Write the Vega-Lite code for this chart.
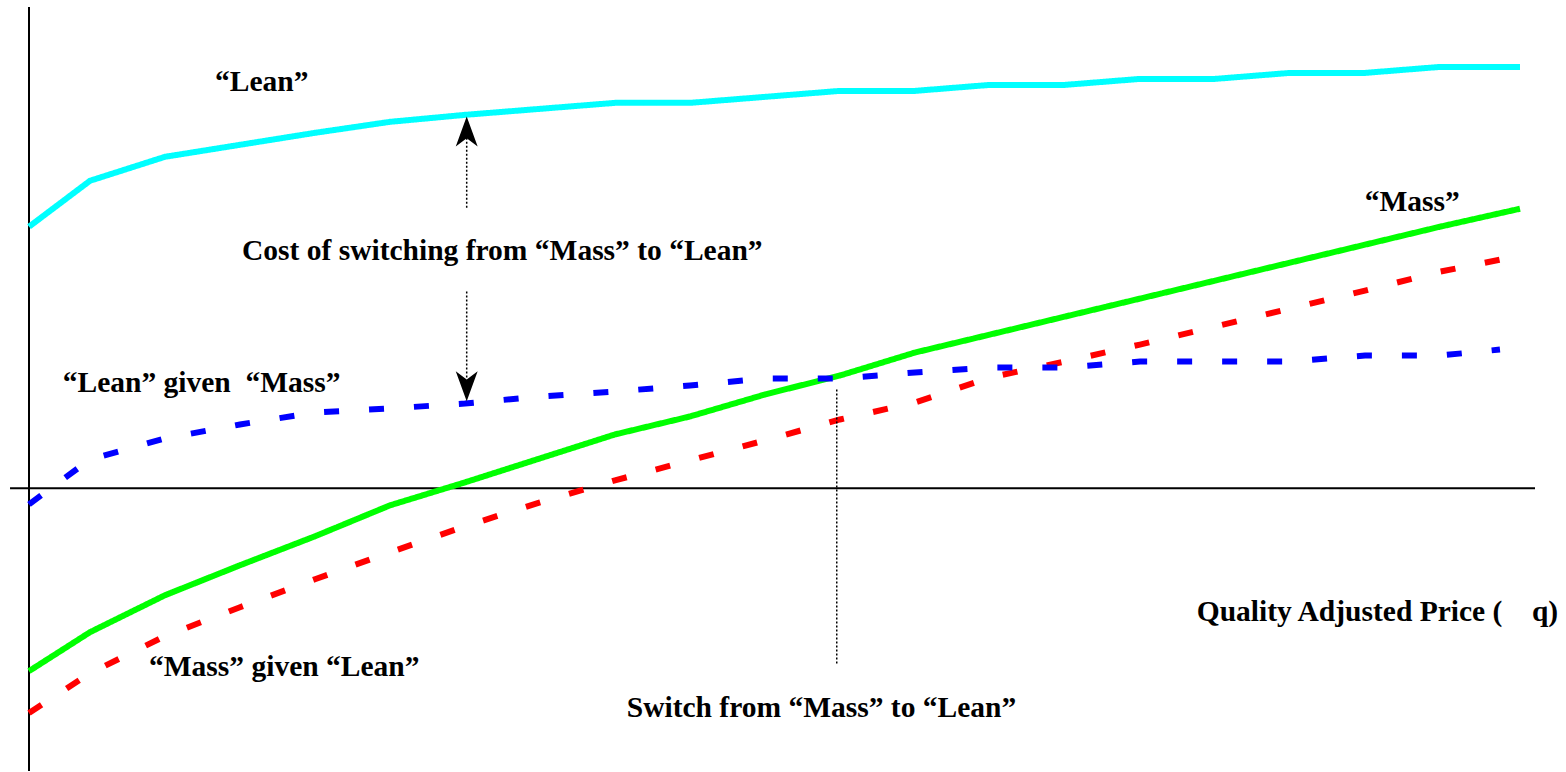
{
  "$schema": "https://vega.github.io/schema/vega-lite/v6.json",
  "width": 1566,
  "height": 772,
  "padding": 0,
  "autosize": {"type": "fit", "contains": "padding"},
  "background": "white",
  "config": {"view": {"stroke": null}, "axis": {"disable": true}, "legend": {"disable": true}},
  "datasets": {
    "curves": [
      {"q": 0, "value": 26.2, "series": "Lean"},
      {"q": 0.813, "value": 30.8, "series": "Lean"},
      {"q": 1.813, "value": 33.2, "series": "Lean"},
      {"q": 2.813, "value": 34.4, "series": "Lean"},
      {"q": 3.813, "value": 35.6, "series": "Lean"},
      {"q": 4.813, "value": 36.7, "series": "Lean"},
      {"q": 5.813, "value": 37.4, "series": "Lean"},
      {"q": 6.813, "value": 38.0, "series": "Lean"},
      {"q": 7.813, "value": 38.6, "series": "Lean"},
      {"q": 8.813, "value": 38.6, "series": "Lean"},
      {"q": 9.813, "value": 39.2, "series": "Lean"},
      {"q": 10.813, "value": 39.8, "series": "Lean"},
      {"q": 11.813, "value": 39.8, "series": "Lean"},
      {"q": 12.813, "value": 40.4, "series": "Lean"},
      {"q": 13.813, "value": 40.4, "series": "Lean"},
      {"q": 14.813, "value": 41.0, "series": "Lean"},
      {"q": 15.813, "value": 41.0, "series": "Lean"},
      {"q": 16.813, "value": 41.6, "series": "Lean"},
      {"q": 17.813, "value": 41.6, "series": "Lean"},
      {"q": 18.813, "value": 42.2, "series": "Lean"},
      {"q": 19.88, "value": 42.2, "series": "Lean"},

      {"q": 0, "value": -18.3, "series": "Mass"},
      {"q": 0.813, "value": -14.4, "series": "Mass"},
      {"q": 1.813, "value": -10.7, "series": "Mass"},
      {"q": 2.813, "value": -7.7, "series": "Mass"},
      {"q": 3.813, "value": -4.8, "series": "Mass"},
      {"q": 4.813, "value": -1.7, "series": "Mass"},
      {"q": 5.813, "value": 0.6, "series": "Mass"},
      {"q": 6.813, "value": 3.0, "series": "Mass"},
      {"q": 7.813, "value": 5.4, "series": "Mass"},
      {"q": 8.813, "value": 7.2, "series": "Mass"},
      {"q": 9.813, "value": 9.4, "series": "Mass"},
      {"q": 10.813, "value": 11.3, "series": "Mass"},
      {"q": 11.813, "value": 13.6, "series": "Mass"},
      {"q": 12.813, "value": 15.4, "series": "Mass"},
      {"q": 13.813, "value": 17.2, "series": "Mass"},
      {"q": 14.813, "value": 19.0, "series": "Mass"},
      {"q": 15.813, "value": 20.8, "series": "Mass"},
      {"q": 16.813, "value": 22.6, "series": "Mass"},
      {"q": 17.813, "value": 24.4, "series": "Mass"},
      {"q": 18.813, "value": 26.2, "series": "Mass"},
      {"q": 19.88, "value": 28.0, "series": "Mass"},

      {"q": 0, "value": -22.5, "series": "Mass given Lean"},
      {"q": 0.813, "value": -18.5, "series": "Mass given Lean"},
      {"q": 1.813, "value": -14.8, "series": "Mass given Lean"},
      {"q": 2.813, "value": -11.9, "series": "Mass given Lean"},
      {"q": 3.813, "value": -9.1, "series": "Mass given Lean"},
      {"q": 4.813, "value": -6.4, "series": "Mass given Lean"},
      {"q": 5.813, "value": -3.8, "series": "Mass given Lean"},
      {"q": 6.813, "value": -1.4, "series": "Mass given Lean"},
      {"q": 7.813, "value": 0.8, "series": "Mass given Lean"},
      {"q": 8.813, "value": 2.8, "series": "Mass given Lean"},
      {"q": 9.813, "value": 4.8, "series": "Mass given Lean"},
      {"q": 10.813, "value": 6.9, "series": "Mass given Lean"},
      {"q": 11.813, "value": 8.6, "series": "Mass given Lean"},
      {"q": 12.813, "value": 11.1, "series": "Mass given Lean"},
      {"q": 13.813, "value": 12.7, "series": "Mass given Lean"},
      {"q": 14.813, "value": 14.4, "series": "Mass given Lean"},
      {"q": 15.813, "value": 16.2, "series": "Mass given Lean"},
      {"q": 16.813, "value": 18.0, "series": "Mass given Lean"},
      {"q": 17.813, "value": 19.8, "series": "Mass given Lean"},
      {"q": 18.813, "value": 21.7, "series": "Mass given Lean"},
      {"q": 19.613, "value": 22.9, "series": "Mass given Lean"},

      {"q": 0, "value": -1.6, "series": "Lean given Mass"},
      {"q": 0.813, "value": 2.9, "series": "Lean given Mass"},
      {"q": 1.813, "value": 5.0, "series": "Lean given Mass"},
      {"q": 2.813, "value": 6.4, "series": "Lean given Mass"},
      {"q": 3.813, "value": 7.6, "series": "Lean given Mass"},
      {"q": 4.813, "value": 8.0, "series": "Lean given Mass"},
      {"q": 5.813, "value": 8.5, "series": "Lean given Mass"},
      {"q": 6.813, "value": 9.2, "series": "Lean given Mass"},
      {"q": 7.813, "value": 9.7, "series": "Lean given Mass"},
      {"q": 8.813, "value": 10.3, "series": "Lean given Mass"},
      {"q": 9.813, "value": 11.0, "series": "Lean given Mass"},
      {"q": 10.813, "value": 11.0, "series": "Lean given Mass"},
      {"q": 11.813, "value": 11.6, "series": "Lean given Mass"},
      {"q": 12.813, "value": 12.1, "series": "Lean given Mass"},
      {"q": 13.813, "value": 12.1, "series": "Lean given Mass"},
      {"q": 14.813, "value": 12.7, "series": "Lean given Mass"},
      {"q": 15.813, "value": 12.7, "series": "Lean given Mass"},
      {"q": 16.813, "value": 12.7, "series": "Lean given Mass"},
      {"q": 17.813, "value": 13.3, "series": "Lean given Mass"},
      {"q": 18.813, "value": 13.3, "series": "Lean given Mass"},
      {"q": 19.613, "value": 13.9, "series": "Lean given Mass"}
    ],
    "labels": [
      {"q": 2.48, "value": 39.8, "label": "\u201cLean\u201d"},
      {"q": 17.81, "value": 27.8, "label": "\u201cMass\u201d"},
      {"q": 2.84, "value": 22.9, "label": "Cost of switching from \u201cMass\u201d to \u201cLean\u201d"},
      {"q": 0.45, "value": 9.6, "label": "\u201cLean\u201d given \u00a0\u201cMass\u201d"},
      {"q": 1.6, "value": -18.8, "label": "\u201cMass\u201d given \u201cLean\u201d"},
      {"q": 15.57, "value": -13.3, "label": "Quality Adjusted Price ( \u00a0 \u00a0q)"},
      {"q": 7.97, "value": -22.9, "label": "Switch from \u201cMass\u201d to \u201cLean\u201d"}
    ]
  },
  "layer": [
    {
      "data": {"values": [{}]},
      "mark": {"type": "rule", "color": "black", "strokeWidth": 2},
      "encoding": {
        "x": {"datum": 0, "type": "quantitative", "scale": {"domain": [-0.3867, 20.4933], "nice": false, "zero": false}},
        "y": {"datum": 48.2, "type": "quantitative", "scale": {"domain": [-28.3, 48.9], "nice": false, "zero": false}},
        "y2": {"datum": -28.3}
      }
    },
    {
      "data": {"values": [{}]},
      "mark": {"type": "rule", "color": "black", "strokeWidth": 2},
      "encoding": {
        "x": {"datum": -0.253, "type": "quantitative", "scale": {"domain": [-0.3867, 20.4933], "nice": false, "zero": false}},
        "x2": {"datum": 20.08},
        "y": {"datum": 0, "type": "quantitative", "scale": {"domain": [-28.3, 48.9], "nice": false, "zero": false}}
      }
    },
    {
      "data": {"name": "curves"},
      "mark": {"type": "line", "strokeWidth": 6, "strokeCap": "butt", "strokeJoin": "miter"},
      "encoding": {
        "x": {"field": "q", "type": "quantitative", "scale": {"domain": [-0.3867, 20.4933], "nice": false, "zero": false}},
        "y": {"field": "value", "type": "quantitative", "scale": {"domain": [-28.3, 48.9], "nice": false, "zero": false}},
        "color": {"field": "series", "type": "nominal", "scale": {"domain": ["Lean", "Mass", "Mass given Lean", "Lean given Mass"], "range": ["#00ffff", "#00ff00", "#ff0000", "#0000ff"]}, "legend": null},
        "strokeDash": {"field": "series", "type": "nominal", "scale": {"domain": ["Lean", "Mass", "Mass given Lean", "Lean given Mass"], "range": [[1, 0], [1, 0], [15, 30], [15, 30]]}, "legend": null}
      }
    },
    {
      "data": {"values": [{}]},
      "mark": {"type": "rule", "color": "black", "strokeWidth": 1.5, "strokeDash": [2, 2]},
      "encoding": {
        "x": {"datum": 10.77, "type": "quantitative", "scale": {"domain": [-0.3867, 20.4933], "nice": false, "zero": false}},
        "y": {"datum": 9.9, "type": "quantitative", "scale": {"domain": [-28.3, 48.9], "nice": false, "zero": false}},
        "y2": {"datum": -17.6}
      }
    },
    {
      "data": {"values": [{}]},
      "mark": {"type": "rule", "color": "black", "strokeWidth": 1.5, "strokeDash": [2, 2]},
      "encoding": {
        "x": {"datum": 5.836, "type": "quantitative", "scale": {"domain": [-0.3867, 20.4933], "nice": false, "zero": false}},
        "y": {"datum": 35.1, "type": "quantitative", "scale": {"domain": [-28.3, 48.9], "nice": false, "zero": false}},
        "y2": {"datum": 27.9}
      }
    },
    {
      "data": {"values": [{}]},
      "mark": {"type": "rule", "color": "black", "strokeWidth": 1.5, "strokeDash": [2, 2]},
      "encoding": {
        "x": {"datum": 5.836, "type": "quantitative", "scale": {"domain": [-0.3867, 20.4933], "nice": false, "zero": false}},
        "y": {"datum": 19.7, "type": "quantitative", "scale": {"domain": [-28.3, 48.9], "nice": false, "zero": false}},
        "y2": {"datum": 10.9}
      }
    },
    {
      "data": {"values": [{}]},
      "mark": {"type": "point", "shape": "M0,-1L0.73,1L0,0.45L-0.73,1Z", "filled": true, "color": "black", "opacity": 1, "size": 900, "strokeWidth": 0},
      "encoding": {
        "x": {"datum": 5.836, "type": "quantitative", "scale": {"domain": [-0.3867, 20.4933], "nice": false, "zero": false}},
        "y": {"datum": 35.73, "type": "quantitative", "scale": {"domain": [-28.3, 48.9], "nice": false, "zero": false}}
      }
    },
    {
      "data": {"values": [{}]},
      "mark": {"type": "point", "shape": "M0,1L0.73,-1L0,-0.45L-0.73,-1Z", "filled": true, "color": "black", "opacity": 1, "size": 900, "strokeWidth": 0},
      "encoding": {
        "x": {"datum": 5.836, "type": "quantitative", "scale": {"domain": [-0.3867, 20.4933], "nice": false, "zero": false}},
        "y": {"datum": 10.23, "type": "quantitative", "scale": {"domain": [-28.3, 48.9], "nice": false, "zero": false}}
      }
    },
    {
      "data": {"name": "labels"},
      "mark": {"type": "text", "font": "Liberation Serif", "fontWeight": "bold", "fontSize": 29.5, "align": "left", "baseline": "alphabetic", "color": "black"},
      "encoding": {
        "x": {"field": "q", "type": "quantitative", "scale": {"domain": [-0.3867, 20.4933], "nice": false, "zero": false}},
        "y": {"field": "value", "type": "quantitative", "scale": {"domain": [-28.3, 48.9], "nice": false, "zero": false}},
        "text": {"field": "label", "type": "nominal"}
      }
    }
  ]
}
